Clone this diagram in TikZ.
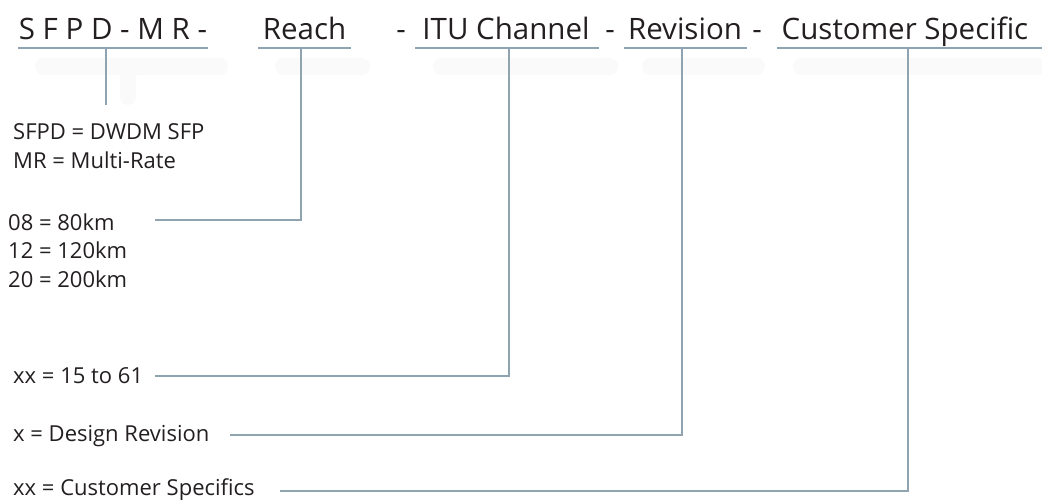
\documentclass[tikz,border=0pt]{standalone}
\usepackage{fontspec}
\setmainfont{Open Sans}
\usepackage{tikz}
\definecolor{leadgray}{HTML}{8FA3B1}
\definecolor{inkgray}{HTML}{231F20}
\definecolor{shadegray}{HTML}{FAFAFB}
\tikzset{
  head/.style={anchor=base,inner sep=0pt,text=inkgray,font=\fontsize{29.5}{34}\selectfont},
  note/.style={anchor=base west,inner sep=0pt,text=inkgray,font=\fontsize{22}{26}\selectfont},
  lead/.style={draw=leadgray,line width=2pt},
  shade/.style={fill=shadegray,rounded corners=8pt}
}

\begin{document}
\begin{tikzpicture}[x=1pt,y=-1pt]
\useasboundingbox (0,0) rectangle (1042,500);

\fill[shade] (35,58) rectangle (228,75);
\fill[shade] (120,70) rectangle (136,105);
\fill[shade] (275,58) rectangle (370,75);
\fill[shade] (433,58) rectangle (618,75);
\fill[shade] (642,58) rectangle (765,75);
\fill[shade] (793,58) rectangle (1050,75);

\draw (113,40)   node (11) [head] {S F P D - M R -};
\draw (304.5,40) node (21) [head] {Reach};
\draw (401,40)   node (30) [head] {-};
\draw (506,40)   node (31) [head] {ITU Channel};
\draw (610,40)   node (40) [head] {-};
\draw (685,40)   node (41) [head] {Revision};
\draw (757,40)   node (50) [head] {-};
\draw (905,40)   node (51) [head] {Customer Specific};

\coordinate (u1a) at (18,48);  \coordinate (u1b) at (208,48);
\coordinate (u2a) at (258,48); \coordinate (u2b) at (351,48);
\coordinate (u3a) at (415,48); \coordinate (u3b) at (599,48);
\coordinate (u4a) at (624,48); \coordinate (u4b) at (747,48);
\coordinate (u5a) at (777,48); \coordinate (u5b) at (1042,48);
\draw[lead] (u1a) -- (u1b);
\draw[lead] (u2a) -- (u2b);
\draw[lead] (u3a) -- (u3b);
\draw[lead] (u4a) -- (u4b);
\draw[lead] (u5a) -- (u5b);

\draw (13,140) node (12) [note] {SFPD = DWDM SFP};
\draw (13,168) node (13) [note] {MR = Multi-Rate};
\coordinate (t1) at (106,48);
\coordinate (e1) at (106,105);
\draw[lead] (t1) -- (e1);

\draw (8,230) node (22) [note] {08 = 80km};
\draw (8,258) node (23) [note] {12 = 120km};
\draw (8,287) node (24) [note] {20 = 200km};
\coordinate (t2) at (301,48);
\coordinate (e2) at (155,220);
\draw[lead] (t2) |- (e2);

\draw (13,383) node (32) [note] {xx = 15 to 61};
\coordinate (t3) at (509,48);
\coordinate (e3) at (155,376);
\draw[lead] (t3) |- (e3);

\draw (13,441) node (42) [note] {x = Design Revision};
\coordinate (t4) at (682,48);
\coordinate (e4) at (230,435);
\draw[lead] (t4) |- (e4);

\draw (13,495) node (52) [note] {xx = Customer Specifics};
\coordinate (t5) at (908,48);
\coordinate (e5) at (280,491);
\draw[lead] (t5) |- (e5);

\end{tikzpicture}
\end{document}
